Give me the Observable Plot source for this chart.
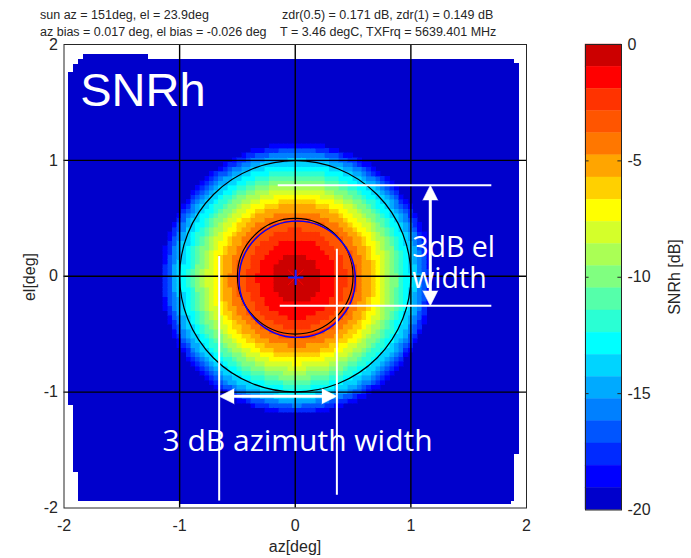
<!DOCTYPE html>
<html><head><meta charset="utf-8">
<script src="https://cdn.jsdelivr.net/npm/d3@7"></script>
<script src="https://cdn.jsdelivr.net/npm/@observablehq/plot@0.6"></script>
<style>
body{margin:0;background:#fff;}
#wrap{position:relative;width:691px;height:558px;overflow:hidden;font-family:"Liberation Sans",Arial,sans-serif;color:#262626;}
#wrap svg{position:absolute;top:0;}
.t{position:absolute;font-size:12.5px;line-height:12px;white-space:nowrap;}
.lab{position:absolute;font-size:16px;line-height:16px;white-space:nowrap;transform:translate(-50%,-50%);}
</style></head><body><div id="wrap"></div>
<script>
// ---- text ----
const titleLeft = ["sun az = 151deg, el = 23.9deg", "az bias = 0.017 deg, el bias = -0.026 deg"];
const titleRight = ["zdr(0.5) = 0.171 dB, zdr(1) = 0.149 dB", "T = 3.46 degC, TXFrq = 5639.401 MHz"];
const xLabel = "az[deg]", yLabel = "el[deg]", cbLabel = "SNRh [dB]";
const axisTicks = [-2, -1, 0, 1, 2];
const gridTicks = [-1, 0, 1];
const cbTicks = [0, -5, -10, -15, -20];

// ---- colour levels (21 bins from 0 to -20 dB) ----
const levelColors = ["#CC0000","#FF0000","#FF3300","#FF5500","#FF7700","#FFA500","#FFD000","#FFFF00","#D4FF2A","#AAFF55","#80FF80","#55FFAA","#2AFFD4","#00FFFF","#00D4FF","#00AAFF","#0080FF","#0055FF","#002AFF","#0000FF","#0000CC"];
// radius (deg from beam centre) at which each level boundary is crossed
const ringRadius = [0.21, 0.34, 0.43, 0.52, 0.58, 0.645, 0.685, 0.735, 0.78, 0.82, 0.865, 0.90, 0.94, 0.985, 1.03, 1.065, 1.095, 1.12, 1.145, 1.17];
const beamCentre = [0.017, -0.026];
const cellSize = 0.04;
// scanned region blocks: [az1, az2, el1, el2]
const scanBlocks = [
  [-1.964, -1.920, -1.114, 1.760],
  [-1.920, -1.877, -1.693, 1.830],
  [-1.877, -1.834, -1.943, 1.874],
  [-1.834, -1.270, -1.943, 1.917],
  [-1.270, -1.000, -1.943, 1.874],
  [-1.000,  1.870, -1.970, 1.874],
  [ 1.870,  1.900, -1.943, 1.874],
  [ 1.900,  1.940, -1.537, 1.840]
];
// reference circles: [az, el, radius]
const blackCircles = [[0, 0, 1.0], [0, 0, 0.5]];
const redCircle = [[0.012, -0.022, 0.503]];
const blueCircle = [[0.017, -0.026, 0.503]];
const centreMark = [[0.004, -0.01]];
// white annotations
const annotH = [[0.786, -0.147, 1.70], [-0.255, -0.13, 1.70]];      // [el, az1, az2]
const annotV = [[-0.658, 0.17, -1.94], [0.36, 0.233, -1.89]];       // [az, el1, el2]
const shaftV = [[1.168, 0.69, -0.16]];
const shaftH = [[-1.036, -0.56, 0.26]];
const arrowHeads = [[1.168, 0.786, 0], [1.168, -0.255, 180], [-0.658, -1.036, 270], [0.36, -1.036, 90]];

// ---- build heatmap cells ----
const cells = [];
const nHalf = Math.ceil(1.3 / cellSize);
for (let i = -nHalf; i <= nHalf; i++) {
  for (let j = -nHalf; j <= nHalf; j++) {
    const az = i * cellSize, el = j * cellSize;
    const r = Math.hypot(az - beamCentre[0], el - beamCentre[1]);
    const bin = ringRadius.filter(rr => rr < r).length;
    if (bin < levelColors.length - 1) cells.push({x1: az - cellSize/2, x2: az + cellSize/2, y1: el - cellSize/2, y2: el + cellSize/2, c: levelColors[bin]});
  }
}

const font = "Liberation Sans, Arial, sans-serif";
const annFont = "Open Sans, Liberation Sans, sans-serif";
const main = Plot.plot({
  width: 691, height: 558,
  marginLeft: 63.5, marginRight: 165, marginTop: 44, marginBottom: 50.5,
  x: {domain: [-2, 2]},
  y: {domain: [-2, 2]},
  color: {type: "identity"},
  r: {type: "linear", domain: [0, 4], range: [0, 462.5]},
  style: {fontFamily: font, fontSize: "16px", color: "#262626", background: "transparent"},
  marks: [
    Plot.rect(scanBlocks, {x1: d => d[0], x2: d => d[1], y1: d => d[2], y2: d => d[3], fill: levelColors[20], shapeRendering: "crispEdges"}),
    Plot.rect(cells, {x1: "x1", x2: "x2", y1: "y1", y2: "y2", fill: "c", stroke: "c", strokeWidth: 0.4, shapeRendering: "crispEdges"}),
    Plot.ruleX(gridTicks, {stroke: "#000", strokeWidth: 1.4}),
    Plot.ruleY(gridTicks, {stroke: "#000", strokeWidth: 1.4}),
    Plot.dot(blackCircles, {x: d => d[0], y: d => d[1], r: d => d[2], stroke: "#000", fill: "none", strokeWidth: 1.2}),
    Plot.dot(redCircle, {x: d => d[0], y: d => d[1], r: d => d[2], stroke: "#ff0000", fill: "none", strokeWidth: 1}),
    Plot.dot(blueCircle, {x: d => d[0], y: d => d[1], r: d => d[2], stroke: "#0000ff", fill: "none", strokeWidth: 1.4}),
    Plot.dot(centreMark, {x: d => d[0], y: d => d[1], symbol: "times", r: 7, stroke: "#ff0000", strokeWidth: 1}),
    Plot.dot(centreMark, {x: d => d[0], y: d => d[1], symbol: "plus", r: 5, stroke: "#2020ff", strokeWidth: 2}),
    Plot.ruleY(annotH, {y: d => d[0], x1: d => d[1], x2: d => d[2], stroke: "white", strokeWidth: 2}),
    Plot.ruleX(annotV, {x: d => d[0], y1: d => d[1], y2: d => d[2], stroke: "white", strokeWidth: 2}),
    Plot.ruleX(shaftV, {x: d => d[0], y1: d => d[1], y2: d => d[2], stroke: "white", strokeWidth: 3}),
    Plot.ruleY(shaftH, {y: d => d[0], x1: d => d[1], x2: d => d[2], stroke: "white", strokeWidth: 3}),
    Plot.vector(arrowHeads, {x: d => d[0], y: d => d[1], rotate: d => d[2], length: 15, r: 7.5, shape: "spike", anchor: "end", fill: "white", stroke: "white", strokeWidth: 0.5}),
    Plot.text(["SNRh"], {x: -1.86, y: 1.468, text: d => d, textAnchor: "start", lineAnchor: "bottom", fill: "white", fontSize: 47, fontFamily: font}),
    Plot.text(["3dB el"], {x: 1.012, y: 0.17, text: d => d, textAnchor: "start", lineAnchor: "bottom", fill: "white", fontSize: 28.5, fontFamily: annFont}),
    Plot.text(["width"], {x: 1.012, y: -0.105, text: d => d, textAnchor: "start", lineAnchor: "bottom", fill: "white", fontSize: 28.5, fontFamily: annFont}),
    Plot.text(["3 dB azimuth width"], {x: 0.02, y: -1.505, text: d => d, textAnchor: "middle", lineAnchor: "bottom", fill: "white", fontSize: 30, fontFamily: annFont}),
    Plot.frame({stroke: "#262626", strokeWidth: 1}),
    Plot.axisX({ticks: axisTicks, tickSize: 0, tickPadding: 12, tickFormat: d => String(d), label: null}),
    Plot.axisY({ticks: axisTicks, tickSize: 0, tickPadding: 6, tickFormat: d => String(d), label: null})
  ]
});
main.style.left = "0px";

const cbBins = levelColors.map((c, i) => ({hi: -20 * i / 21, lo: -20 * (i + 1) / 21, c}));
const cb = Plot.plot({
  width: 116, height: 558,
  marginLeft: 10, marginRight: 70, marginTop: 44, marginBottom: 48.5,
  x: {domain: [0, 1], axis: null},
  y: {domain: [-20, 0]},
  color: {type: "identity"},
  style: {fontFamily: font, fontSize: "16px", color: "#262626", background: "transparent"},
  marks: [
    Plot.rect(cbBins, {x1: 0, x2: 1, y1: "lo", y2: "hi", fill: "c", stroke: "c", strokeWidth: 0.4}),
    Plot.ruleY(cbTicks.slice(1, -1), {x1: 0, x2: 0.1, stroke: "#262626"}),
    Plot.ruleY(cbTicks.slice(1, -1), {x1: 0.9, x2: 1, stroke: "#262626"}),
    Plot.frame({stroke: "#262626"}),
    Plot.axisY({anchor: "right", ticks: cbTicks, tickSize: 0, tickPadding: 6, tickFormat: d => String(d), label: null})
  ]
});
cb.style.left = "575px";

const wrap = document.getElementById("wrap");
wrap.append(main, cb);
function addDiv(cls, text, css) {
  const d = document.createElement("div");
  d.className = cls; d.textContent = text;
  Object.assign(d.style, css);
  wrap.append(d);
}
addDiv("t", titleLeft[0], {left: "40px", top: "9px"});
addDiv("t", titleLeft[1], {left: "40px", top: "26px"});
addDiv("t", titleRight[0], {left: "282px", top: "9px"});
addDiv("t", titleRight[1], {left: "280px", top: "26px"});
addDiv("lab", xLabel, {left: "295px", top: "547px"});
addDiv("lab", yLabel, {left: "30px", top: "277px", transform: "translate(-50%,-50%) rotate(-90deg)"});
addDiv("lab", cbLabel, {left: "675px", top: "277px", transform: "translate(-50%,-50%) rotate(-90deg)"});
</script></body></html>
